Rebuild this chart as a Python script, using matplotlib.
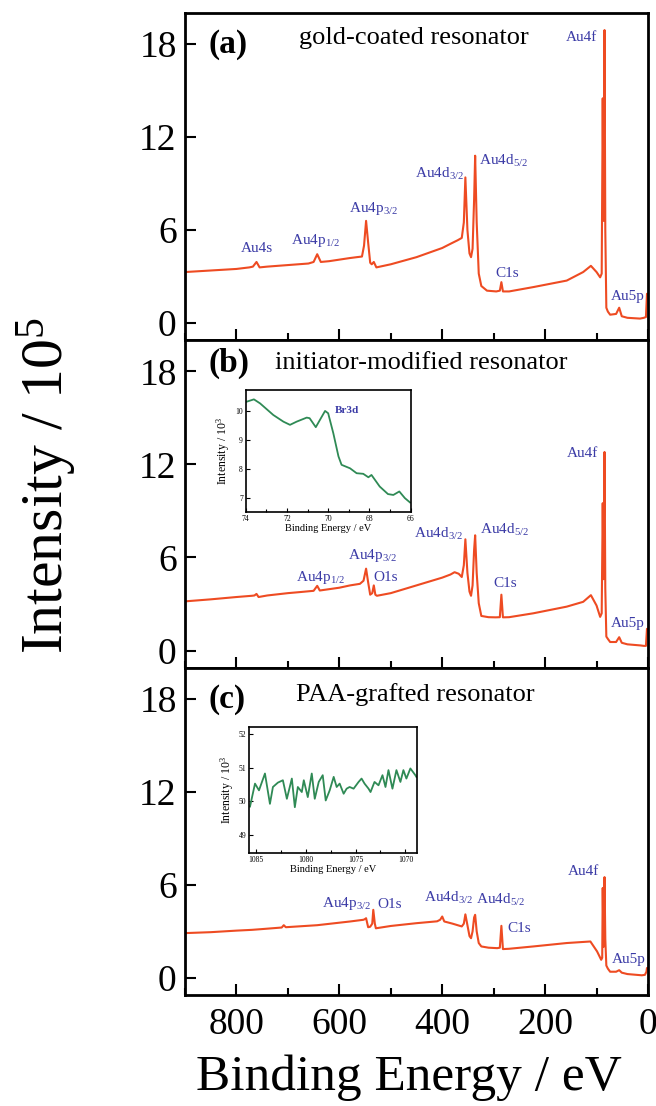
import numpy as np
import matplotlib
matplotlib.use("Agg")
import matplotlib.pyplot as plt
from matplotlib.ticker import MultipleLocator

plt.rcParams['font.family'] = ['Liberation Serif', 'DejaVu Serif']
plt.rcParams['mathtext.fontset'] = 'custom'
plt.rcParams['mathtext.rm'] = 'Liberation Serif'
plt.rcParams['mathtext.it'] = 'Liberation Serif:italic'
plt.rcParams['mathtext.bf'] = 'Liberation Serif:bold'

### survey spectra, binding energy (eV) and intensity (10^5)
be_a = [900, 850, 800, 775, 768, 761, 755, 740, 700, 660, 650, 643, 636, 620, 580, 566, 556, 552,
        548, 544, 540, 537, 533, 528, 500, 450, 400, 384, 370, 362, 358, 355, 351, 347, 344, 341,
        338, 336, 333, 329, 324, 313, 295, 288, 285, 282, 270, 223, 158, 126, 111, 100, 93, 90,
        88, 86.5, 84.5, 83, 81, 78, 73.6, 62, 56, 51, 40, 15.5, 8, 4, 2, 1.5]
int_a = [3.3, 3.4, 3.5, 3.6, 3.65, 3.95, 3.6, 3.65, 3.75, 3.85, 3.95, 4.45, 3.95, 4.0, 4.2, 4.26, 4.3, 5.0,
         6.6, 5.2, 3.9, 3.8, 3.95, 3.6, 3.8, 4.26, 4.85, 5.12, 5.35, 5.5, 6.5, 9.4, 6.0, 4.5, 4.26, 4.8,
         8.0, 10.8, 6.5, 3.2, 2.4, 2.1, 2.05, 2.1, 2.65, 2.05, 2.05, 2.33, 2.75, 3.3, 3.7, 3.3, 2.96, 3.2,
         14.5, 6.6, 18.9, 6.0, 1.0, 0.75, 0.55, 0.6, 1.0, 0.45, 0.35, 0.3, 0.35, 0.4, 1.9, 1.9]

be_b = [900, 850, 800, 770, 765, 761, 757, 740, 700, 676, 650, 643, 638, 600, 579, 560, 553, 548,
        544, 540, 536, 533, 530, 527, 500, 450, 400, 384, 376, 368, 362, 358, 355, 351, 347, 344,
        341, 338, 336, 333, 329, 324, 310, 296, 288, 285, 282, 270, 223, 158, 126, 111, 100, 93,
        90, 88, 86.5, 84.5, 83, 81, 78, 73.6, 62, 56, 51, 40, 15, 8, 4, 2, 1.5]
int_b = [3.17, 3.3, 3.45, 3.53, 3.55, 3.65, 3.45, 3.55, 3.7, 3.77, 3.85, 4.17, 3.87, 4.05, 4.2, 4.3, 4.5, 5.28,
         4.4, 3.6, 3.7, 4.2, 3.6, 3.53, 3.7, 4.2, 4.7, 4.9, 5.05, 4.95, 4.74, 5.5, 7.17, 5.0, 3.8, 3.53,
         4.2, 6.5, 7.43, 5.0, 3.05, 2.23, 2.15, 2.14, 2.15, 3.6, 2.14, 2.15, 2.4, 2.83, 3.14, 3.57, 2.9, 2.17,
         2.4, 9.5, 4.6, 12.8, 4.0, 0.9, 0.75, 0.55, 0.55, 0.86, 0.5, 0.4, 0.33, 0.3, 0.3, 1.4, 1.4]

be_c = [900, 850, 800, 770, 750, 712, 708, 704, 643, 579, 553, 550, 548, 544, 540, 536, 534, 531,
        529, 500, 450, 410, 404, 400, 396, 380, 362, 358, 355, 351, 347, 344, 341, 338, 336, 333,
        329, 324, 310, 293, 288, 285, 282, 270, 223, 158, 112, 99, 91, 89, 88, 86.5, 84.5, 83,
        81, 78, 73.6, 62, 56, 51, 40, 12, 6, 3, 2, 1.5]
int_c = [2.89, 2.95, 3.05, 3.1, 3.15, 3.25, 3.4, 3.27, 3.4, 3.64, 3.75, 3.8, 3.85, 3.27, 3.3, 3.5, 4.39, 3.5,
         3.2, 3.35, 3.53, 3.65, 3.75, 3.96, 3.64, 3.5, 3.32, 3.5, 4.1, 3.4, 2.7, 2.56, 3.0, 3.9, 4.07, 3.0,
         2.25, 2.03, 1.95, 1.92, 1.95, 3.36, 1.86, 1.88, 2.03, 2.25, 2.35, 1.71, 1.17, 1.3, 5.8, 2.0, 6.5, 2.5,
         0.8, 0.6, 0.4, 0.4, 0.5, 0.34, 0.25, 0.17, 0.2, 0.4, 0.64, 0.64]

### insets: Br3d region (10^3) and C=O region (10^3)
br_be = [73.95, 73.6, 73.3, 72.66, 72.17, 71.85, 71.53, 71.04, 70.9, 70.6, 70.4, 70.15, 70.0, 69.75,
         69.5, 69.35, 68.94, 68.62, 68.3, 68.05, 67.9, 67.5, 67.1, 66.84, 66.55, 66.28, 66.03]
br_int = [10.32, 10.4, 10.26, 9.86, 9.63, 9.52, 9.63, 9.77, 9.75, 9.44, 9.69, 10.0, 9.92, 9.23,
          8.43, 8.14, 8.02, 7.85, 7.83, 7.71, 7.79, 7.39, 7.13, 7.1, 7.22, 6.99, 6.84]

hi_be = [1085.6, 1085.1, 1084.7, 1084.1, 1083.6, 1083.3, 1082.8, 1082.3, 1081.9, 1081.4, 1081.1,
         1080.8, 1080.4, 1080.2, 1079.8, 1079.4, 1079.1, 1078.7, 1078.3, 1078.0, 1077.6, 1077.2,
         1076.9, 1076.6, 1076.2, 1075.9, 1075.6, 1075.2, 1074.7, 1074.4, 1074.1, 1073.7, 1073.5,
         1073.1, 1072.7, 1072.3, 1072.0, 1071.7, 1071.3, 1070.9, 1070.5, 1070.2, 1069.9, 1069.5,
         1069.0, 1068.9]
hi_int = [49.85, 50.53, 50.33, 50.83, 49.93, 50.43, 50.56, 50.63, 50.08, 50.68, 49.83,
          50.43, 50.28, 50.63, 50.13, 50.83, 50.08, 50.58, 50.78, 50.03, 50.33, 50.73,
          50.43, 50.53, 50.23, 50.38, 50.43, 50.38, 50.58, 50.68, 50.53, 50.38, 50.28,
          50.58, 50.48, 50.78, 50.43, 50.93, 50.38, 50.93, 50.58, 50.93, 50.68, 50.98,
          50.78, 50.73]

titles = ['gold-coated resonator', 'initiator-modified resonator', 'PAA-grafted resonator']
tags = ['(a)', '(b)', '(c)']

labels_a = [('Au4s', 761, 4.8), (r'Au4p$_{\mathregular{1/2}}$', 646, 5.33),
            (r'Au4p$_{\mathregular{3/2}}$', 534, 7.37), (r'Au4d$_{\mathregular{3/2}}$', 405, 9.62),
            (r'Au4d$_{\mathregular{5/2}}$', 281, 10.48), ('C1s', 274, 3.23),
            ('Au4f', 130, 18.44), ('Au5p', 40, 1.74)]
labels_b = [(r'Au4p$_{\mathregular{1/2}}$', 637, 4.74), (r'Au4p$_{\mathregular{3/2}}$', 536, 6.14),
            ('O1s', 510, 4.68), (r'Au4d$_{\mathregular{3/2}}$', 408, 7.54),
            (r'Au4d$_{\mathregular{5/2}}$', 278, 7.76), ('C1s', 278, 4.31),
            ('Au4f', 127, 12.71), ('Au5p', 40, 1.73)]
labels_c = [(r'Au4p$_{\mathregular{3/2}}$', 586, 4.82), ('O1s', 502, 4.71),
            (r'Au4d$_{\mathregular{3/2}}$', 388, 5.14), (r'Au4d$_{\mathregular{5/2}}$', 286, 5.03),
            ('C1s', 250, 3.21), ('Au4f', 126, 6.85), ('Au5p', 38, 1.18)]

red = '#ee4b22'
blue = '#3b3ba6'
green = '#2f8a55'

fig = plt.figure(figsize=(6.56, 11.06), dpi=100)
W, H = 656.0, 1106.0
left, right = 185 / W, 648 / W
tops = [13, 340.3, 667.7]
ph = 327.3

series = [(be_a, int_a, labels_a), (be_b, int_b, labels_b), (be_c, int_c, labels_c)]
tag_y = [0.905, 0.931, 0.903]
title_y = [0.925, 0.931, 0.918]
title_x = [0.495, 0.511, 0.497]
axes = []
for i, (be, inten, labs) in enumerate(series):
    ax = fig.add_axes([left, 1 - (tops[i] + ph) / H, right - left, ph / H])
    ax.plot(be, inten, color=red, linewidth=1.5)
    ax.set_xlim(900, 0)
    ax.set_ylim(-1.1, 20)
    ax.xaxis.set_major_locator(MultipleLocator(200))
    ax.xaxis.set_minor_locator(MultipleLocator(100))
    ax.set_yticks([0, 6, 12, 18])
    ax.tick_params(axis='both', which='major', direction='in', length=8, width=1.5, labelsize=27)
    ax.tick_params(axis='x', which='minor', direction='in', length=5, width=1.5)
    ax.tick_params(axis='x', pad=9)
    ax.tick_params(axis='y', pad=6)
    for sp in ax.spines.values():
        sp.set_linewidth(2)
    if i < 2:
        ax.tick_params(axis='x', labelbottom=False)
    for txt, x, y in labs:
        ax.text(x, y, txt, color=blue, fontsize=11, ha='center', va='center')
    ax.text(0.05, tag_y[i], tags[i], transform=ax.transAxes, fontsize=24, fontweight='bold',
            ha='left', va='center')
    ax.text(title_x[i], title_y[i], titles[i], transform=ax.transAxes, fontsize=19,
            ha='center', va='center')
    axes.append(ax)

# inset (b): Br3d
axb = fig.add_axes([0.3745, 0.5373, 0.2515, 0.110])
axb.plot(br_be, br_int, color=green, linewidth=1.3)
axb.set_xlim(74, 66)
axb.set_ylim(6.52, 10.72)
axb.xaxis.set_major_locator(MultipleLocator(2))
axb.xaxis.set_minor_locator(MultipleLocator(1))
axb.set_yticks([7, 8, 9, 10])
axb.text(69.1, 10.0, 'Br3d', color=blue, fontsize=8, fontweight='bold', ha='center', va='center')
axb.set_xlabel('Binding Energy / eV', fontsize=7.5, labelpad=1)
axb.set_ylabel(r'Intensity / 10$^{\mathregular{3}}$', fontsize=8.5, labelpad=2)

# inset (c): C=O region
axc = fig.add_axes([0.3796, 0.229, 0.2566, 0.114])
axc.plot(hi_be, hi_int, color=green, linewidth=1.3)
axc.set_xlim(1085.7, 1068.8)
axc.set_ylim(48.48, 52.22)
axc.xaxis.set_major_locator(MultipleLocator(5))
axc.xaxis.set_minor_locator(MultipleLocator(2.5))
axc.set_yticks([49, 50, 51, 52])
axc.set_xlabel('Binding Energy / eV', fontsize=7.5, labelpad=1)
axc.set_ylabel(r'Intensity / 10$^{\mathregular{3}}$', fontsize=8.5, labelpad=2)

for a in (axb, axc):
    a.tick_params(axis='both', which='major', direction='in', length=3, width=0.8, labelsize=5.5, pad=2)
    a.tick_params(axis='both', which='minor', direction='in', length=2, width=0.8)
    for sp in a.spines.values():
        sp.set_linewidth(1.2)

fig.text(47 / W, 1 - 485 / H, r'Intensity / 10$^{\mathregular{5}}$', rotation=90, fontsize=43,
         ha='center', va='center')
fig.text(409 / W, 1 - 1078 / H, 'Binding Energy / eV', fontsize=37, ha='center', va='center')

fig.savefig('out.png', dpi=100)
